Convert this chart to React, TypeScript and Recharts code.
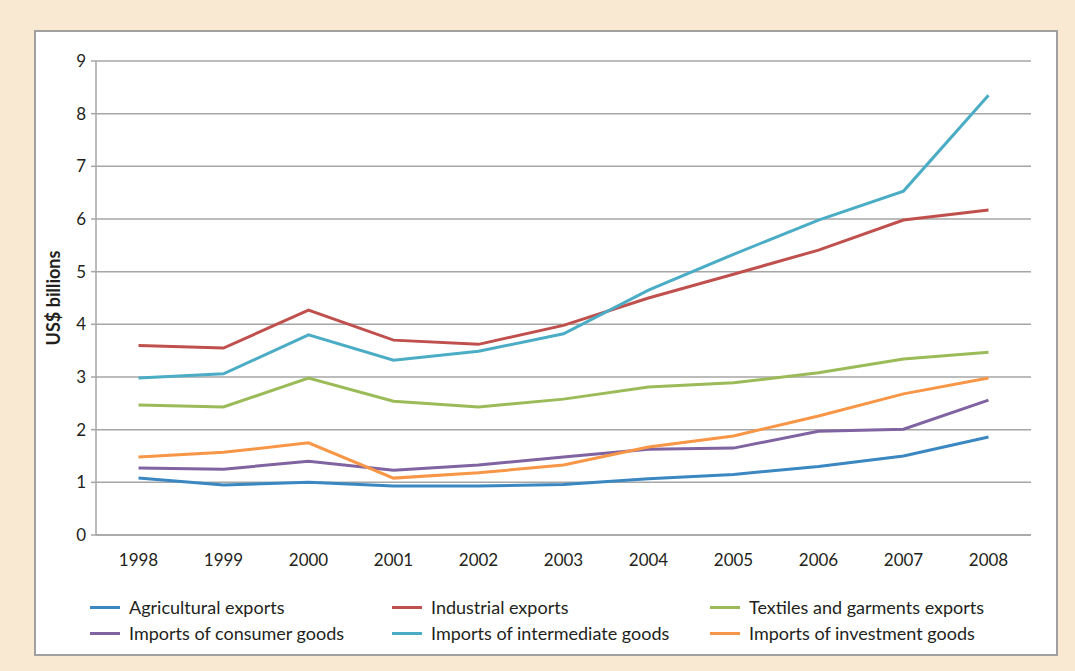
import { Line, LineChart, XAxis, YAxis, CartesianGrid } from "recharts";

const years = [1998, 1999, 2000, 2001, 2002, 2003, 2004, 2005, 2006, 2007, 2008];
const agricultural = [1.08, 0.95, 1.0, 0.93, 0.93, 0.96, 1.07, 1.15, 1.3, 1.5, 1.86];
const industrial = [3.6, 3.55, 4.27, 3.7, 3.62, 3.98, 4.5, 4.95, 5.41, 5.98, 6.17];
const textiles = [2.47, 2.43, 2.98, 2.54, 2.43, 2.58, 2.81, 2.89, 3.08, 3.34, 3.47];
const consumer = [1.27, 1.25, 1.4, 1.23, 1.33, 1.48, 1.63, 1.65, 1.97, 2.01, 2.56];
const intermediate = [2.98, 3.06, 3.8, 3.32, 3.49, 3.82, 4.65, 5.33, 5.98, 6.53, 8.35];
const investment = [1.48, 1.57, 1.75, 1.08, 1.18, 1.33, 1.67, 1.88, 2.26, 2.68, 2.98];
const yTicks = [0, 1, 2, 3, 4, 5, 6, 7, 8, 9];
const sepTicks = [1997.5, 1998.5, 1999.5, 2000.5, 2001.5, 2002.5, 2003.5, 2004.5, 2005.5, 2006.5, 2007.5, 2008.5];

// legend order is row by row: 3 columns
const series = [
  { key: "agri", name: "Agricultural exports", color: "#3A87C2", values: agricultural },
  { key: "ind", name: "Industrial exports", color: "#C0504D", values: industrial },
  { key: "tex", name: "Textiles and garments exports", color: "#9BBB59", values: textiles },
  { key: "con", name: "Imports of consumer goods", color: "#8064A2", values: consumer },
  { key: "int", name: "Imports of intermediate goods", color: "#4BACC6", values: intermediate },
  { key: "inv", name: "Imports of investment goods", color: "#F79646", values: investment },
];

const data = years.map((year, i) => {
  const row: Record<string, number> = { year };
  series.forEach((s) => (row[s.key] = s.values[i]));
  return row;
});

const FONT = "Lato, 'Open Sans', sans-serif";
const TEXT = "#231F20";
const GRID = "#A6A6A6";

const legendCols = [90, 392, 710];

export default function App() {
  return (
    <div
      style={{
        position: "absolute",
        left: 0,
        top: 0,
        width: 1075,
        height: 671,
        background: "#F9E9D2",
        fontFamily: FONT,
        color: TEXT,
      }}
    >
      <div
        style={{
          position: "absolute",
          left: 34,
          top: 30,
          width: 1020,
          height: 622,
          background: "#fff",
          border: "2px solid #A0A0A0",
        }}
      />
      <div style={{ position: "absolute", left: 0, top: 0 }}>
        <LineChart
          width={1075}
          height={600}
          data={data}
          margin={{ top: 61, right: 44, left: 56, bottom: 35 }}
        >
          <CartesianGrid vertical={false} stroke={GRID} strokeWidth={1.5} />
          <XAxis
            xAxisId="sep"
            dataKey="year"
            type="number"
            domain={[1997.5, 2008.5]}
            ticks={sepTicks}
            tickFormatter={() => ""}
            axisLine={false}
            tickLine={{ stroke: GRID, strokeWidth: 1.5 }}
            tickSize={5}
            height={0}
            allowDataOverflow
          />
          <XAxis
            xAxisId="yr"
            dataKey="year"
            type="number"
            domain={[1997.5, 2008.5]}
            ticks={years}
            tickLine={false}
            axisLine={{ stroke: GRID, strokeWidth: 1.5 }}
            tick={{ fill: TEXT, fontSize: 17, fontFamily: FONT }}
            tickMargin={13}
            height={30}
            allowDataOverflow
          />
          <YAxis
            domain={[0, 9]}
            ticks={yTicks}
            width={40}
            axisLine={{ stroke: GRID, strokeWidth: 1.5 }}
            tickLine={{ stroke: GRID, strokeWidth: 1.5 }}
            tickSize={5}
            tickMargin={5}
            tick={{ fill: TEXT, fontSize: 17, fontFamily: FONT }}
            label={{
              value: "US$ billions",
              angle: -90,
              position: "insideLeft",
              offset: -2,
              style: { fill: TEXT, fontSize: 18, fontWeight: 700, fontFamily: FONT, textAnchor: "middle" },
            }}
          />
          {series.map((s) => (
            <Line
              key={s.key}
              xAxisId="yr"
              type="linear"
              dataKey={s.key}
              name={s.name}
              stroke={s.color}
              strokeWidth={3}
              dot={false}
              activeDot={false}
              isAnimationActive={false}
            />
          ))}
        </LineChart>
      </div>
      {series.map((s, i) => {
        const col = i % 3;
        const row = Math.floor(i / 3);
        return (
          <div
            key={s.key}
            style={{
              position: "absolute",
              left: legendCols[col],
              top: 596 + row * 26,
              height: 22,
              display: "flex",
              alignItems: "center",
              fontSize: 18,
              whiteSpace: "nowrap",
            }}
          >
            <span
              style={{ display: "inline-block", width: 30, height: 3, background: s.color, marginRight: 9 }}
            />
            {s.name}
          </div>
        );
      })}
    </div>
  );
}
